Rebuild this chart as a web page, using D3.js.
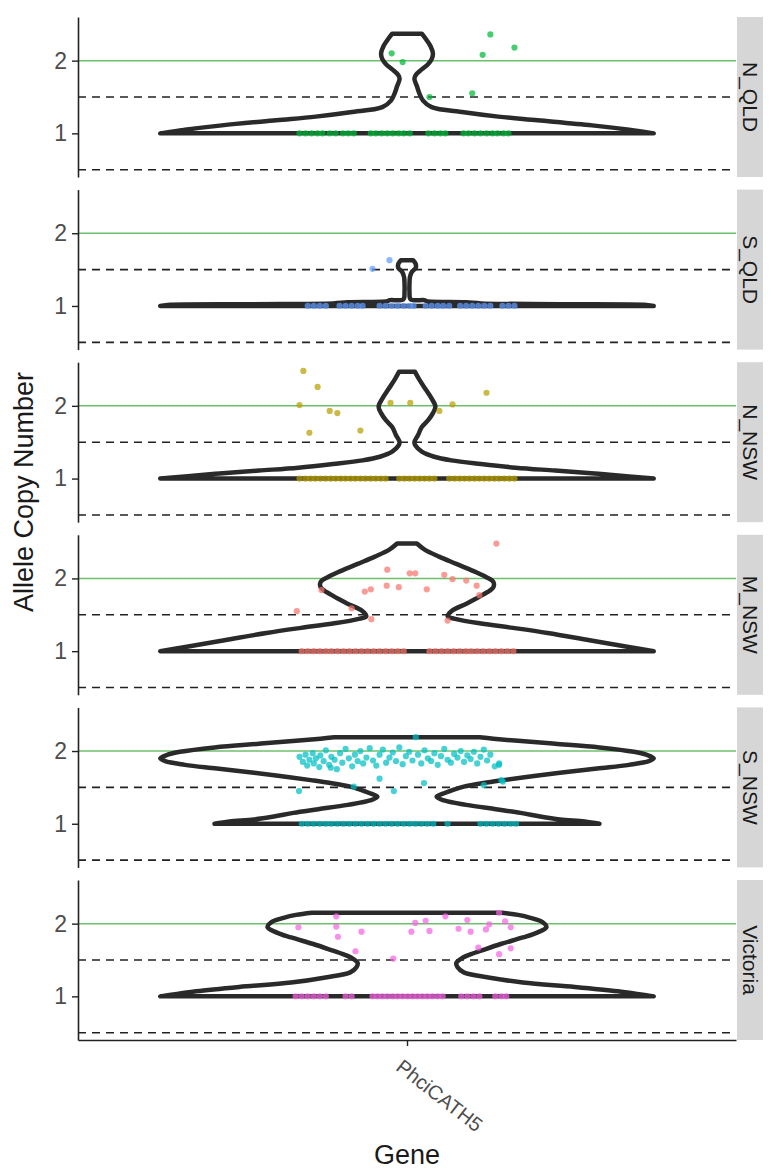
<!DOCTYPE html>
<html>
<head>
<meta charset="utf-8">
<script src="https://cdn.jsdelivr.net/npm/d3@7"></script>
<style>
  body { margin: 0; background: #fff; }
  svg { display: block; }
  text { font-family: "Liberation Sans", Arial, sans-serif; }
</style>
</head>
<body>
<svg id="chart" width="771" height="1171"></svg>
<script>
// ---- data ----
const gene = "PhciCATH5";
const regions = ["N_QLD", "S_QLD", "N_NSW", "M_NSW", "S_NSW", "Victoria"];
const regionColors = ["#00BA38", "#619CFF", "#B79F00", "#F8766D", "#00BFC4", "#F564E3"];
const yTicks = [1, 2];
const dashedLevels = [0.5, 1.5];
const expectedLevel = 2;

// violin outlines: [allele copy number, relative density]
const densNQLD = [[1.00,1.00],[1.05,0.90],[1.11,0.75],[1.18,0.53],[1.23,0.37],[1.29,0.23],[1.36,0.10],[1.45,0.065],[1.55,0.05],[1.65,0.04],[1.75,0.03],[1.80,0.035],[1.88,0.06],[1.95,0.085],[2.02,0.10],[2.10,0.105],[2.20,0.095],[2.28,0.08],[2.37,0.06]];
const densSQLD = [[1.00,1.00],[1.015,0.97],[1.025,0.62],[1.035,0.30],[1.05,0.24],[1.065,0.08],[1.08,0.07],[1.09,0.015],[1.20,0.01],[1.30,0.01],[1.40,0.012],[1.47,0.02],[1.52,0.035],[1.58,0.035],[1.63,0.025]];
const densNNSW = [[1.00,1.00],[1.03,0.90],[1.07,0.76],[1.11,0.60],[1.15,0.44],[1.20,0.30],[1.25,0.18],[1.30,0.11],[1.37,0.06],[1.45,0.035],[1.50,0.03],[1.60,0.045],[1.71,0.06],[1.80,0.085],[1.90,0.105],[1.99,0.115],[2.10,0.10],[2.22,0.077],[2.36,0.05],[2.47,0.032]];
const densMNSW = [[1.00,1.00],[1.05,0.91],[1.15,0.74],[1.25,0.57],[1.32,0.43],[1.38,0.30],[1.44,0.20],[1.48,0.165],[1.55,0.18],[1.66,0.245],[1.78,0.31],[1.88,0.35],[1.95,0.35],[2.02,0.32],[2.10,0.27],[2.20,0.20],[2.30,0.13],[2.40,0.07],[2.48,0.04]];
const densSNSW = [[1.00,0.78],[1.03,0.72],[1.06,0.62],[1.10,0.54],[1.15,0.46],[1.20,0.36],[1.26,0.24],[1.32,0.15],[1.37,0.12],[1.42,0.15],[1.47,0.19],[1.51,0.23],[1.56,0.31],[1.60,0.39],[1.65,0.50],[1.70,0.62],[1.76,0.77],[1.81,0.90],[1.86,0.98],[1.90,1.00],[1.95,0.97],[1.99,0.92],[2.05,0.78],[2.10,0.60],[2.14,0.45],[2.17,0.35],[2.19,0.295]];
const densVIC  = [[1.00,1.00],[1.03,0.94],[1.07,0.855],[1.13,0.68],[1.19,0.47],[1.26,0.33],[1.33,0.23],[1.40,0.205],[1.46,0.20],[1.52,0.22],[1.58,0.26],[1.64,0.31],[1.72,0.38],[1.81,0.47],[1.88,0.53],[1.95,0.565],[2.02,0.55],[2.08,0.50],[2.12,0.45],[2.15,0.385]];

// individual samples: horizontal jitter (category units) of samples at copy number 1
const onesNQLD = [-0.196,-0.185,-0.174,-0.163,-0.154,-0.141,-0.130,-0.117,-0.107,-0.097,-0.066,-0.057,-0.046,-0.036,-0.026,-0.015,-0.006,0.005,0.039,0.050,0.061,0.070,0.103,0.112,0.123,0.134,0.145,0.156,0.165,0.176,0.185];
const onesSQLD = [-0.181,-0.170,-0.159,-0.148,-0.123,-0.112,-0.101,-0.090,-0.081,-0.050,-0.039,-0.028,-0.017,-0.006,0.005,0.012,0.034,0.045,0.056,0.066,0.077,0.097,0.108,0.119,0.130,0.141,0.152,0.174,0.185,0.196];
const onesNNSW = [-0.196,-0.185,-0.176,-0.167,-0.158,-0.148,-0.139,-0.130,-0.121,-0.112,-0.103,-0.094,-0.085,-0.076,-0.066,-0.057,-0.048,-0.039,-0.014,-0.005,0.005,0.014,0.023,0.032,0.041,0.050,0.077,0.087,0.096,0.105,0.114,0.123,0.132,0.141,0.150,0.159,0.168,0.178,0.187,0.196];
const onesMNSW = [-0.192,-0.181,-0.170,-0.159,-0.148,-0.138,-0.127,-0.116,-0.105,-0.094,-0.083,-0.072,-0.061,-0.050,-0.039,-0.028,-0.017,-0.006,0.041,0.052,0.063,0.074,0.085,0.096,0.107,0.117,0.128,0.139,0.150,0.161,0.172,0.183,0.194];
const onesSNSW = [-0.192,-0.181,-0.170,-0.159,-0.148,-0.138,-0.127,-0.116,-0.105,-0.094,-0.083,-0.072,-0.061,-0.050,-0.039,-0.028,-0.017,-0.006,0.005,0.015,0.026,0.037,0.048,0.074,0.134,0.145,0.156,0.167,0.178,0.189,0.199];
const onesVIC  = [-0.203,-0.192,-0.181,-0.170,-0.159,-0.148,-0.112,-0.101,-0.063,-0.054,-0.045,-0.036,-0.026,-0.017,-0.008,0.001,0.010,0.019,0.028,0.037,0.046,0.056,0.065,0.099,0.110,0.121,0.132,0.161,0.172,0.181];

// remaining samples: [jitter, allele copy number]
const restNQLD = [[-0.028,2.10],[-0.008,1.98],[0.041,1.50],[0.119,1.55],[0.138,2.08],[0.152,2.36],[0.196,2.18]];
const restSQLD = [[-0.063,1.51],[-0.032,1.63]];
const restNNSW = [[-0.189,2.48],[-0.163,2.26],[-0.196,2.01],[-0.141,1.93],[-0.127,1.90],[-0.178,1.63],[-0.085,1.66],[-0.030,2.04],[0.006,2.04],[0.059,1.93],[0.083,2.02],[0.145,2.18]];
const restMNSW = [[0.163,2.48],[-0.036,2.12],[0.005,2.07],[0.015,2.07],[0.068,2.05],[0.083,1.99],[0.108,1.97],[0.127,1.90],[-0.037,1.90],[-0.015,1.88],[0.036,1.85],[-0.077,1.82],[-0.066,1.85],[-0.156,1.84],[0.132,1.77],[-0.201,1.55],[-0.101,1.59],[-0.065,1.44],[0.074,1.42]];
const restSNSW = [[-0.196,1.92],[-0.190,1.85],[-0.185,1.95],[-0.182,1.80],[-0.178,1.88],[-0.172,1.97],[-0.170,1.83],[-0.166,1.90],[-0.160,1.78],[-0.158,1.94],[-0.152,1.86],[-0.148,2.01],[-0.142,1.81],[-0.138,1.92],[-0.132,1.88],[-0.128,1.75],[-0.122,1.97],[-0.118,1.84],[-0.112,2.03],[-0.106,1.90],[-0.100,1.79],[-0.095,1.95],[-0.090,1.86],[-0.085,2.00],[-0.080,1.83],[-0.074,1.91],[-0.068,2.04],[-0.062,1.87],[-0.056,1.80],[-0.050,1.95],[-0.044,2.02],[-0.038,1.84],[-0.032,1.91],[-0.026,1.98],[-0.020,1.86],[-0.014,2.05],[-0.008,1.82],[-0.002,1.93],[0.004,1.99],[0.010,1.87],[0.016,2.19],[0.020,1.95],[0.026,1.83],[0.032,2.01],[0.038,1.90],[0.044,1.86],[0.050,1.97],[0.056,1.81],[0.062,1.93],[0.068,2.03],[0.074,1.88],[0.080,1.84],[0.086,1.96],[0.092,1.91],[0.098,2.00],[0.104,1.85],[0.110,1.94],[0.116,1.89],[0.122,1.99],[0.128,1.83],[0.134,1.92],[0.140,2.02],[0.146,1.87],[0.152,1.95],[0.160,1.79],[0.168,1.83],[0.172,1.60],[0.175,1.58],[0.140,1.53],[-0.197,1.45],[-0.050,1.62],[0.031,1.56],[-0.024,1.45],[-0.097,1.51],[-0.139,1.77],[0.168,1.81]];
const restVIC  = [[-0.129,2.10],[-0.129,1.96],[-0.126,1.82],[-0.198,1.95],[-0.083,1.89],[-0.094,1.62],[-0.025,1.52],[0.008,1.89],[0.015,2.01],[0.034,2.04],[0.041,1.90],[0.070,2.10],[0.094,1.93],[0.110,2.05],[0.116,1.89],[0.144,1.92],[0.150,1.99],[0.168,2.15],[0.179,2.03],[0.189,1.95],[0.189,1.66],[0.168,1.58],[0.130,1.67]];

const densities = [densNQLD, densSQLD, densNNSW, densMNSW, densSNSW, densVIC];
const ones = [onesNQLD, onesSQLD, onesNNSW, onesMNSW, onesSNSW, onesVIC];
const rests = [restNQLD, restSQLD, restNNSW, restMNSW, restSNSW, restVIC];

// ---- layout ----
const panelLeft = 78, panelRight = 736;
const panelTop = 17, panelH = 160, panelGap = 12.6;
const stripW = 26;
const yDomain = [0.4, 2.6];
const violinWidth = 0.9;
const ink = "#222";

const svg = d3.select("#chart");

const x = d3.scalePoint().domain([gene]).range([panelLeft, panelRight]).padding(0.6);
const step = x.step();
const cx = x(gene);

regions.forEach((region, i) => {
  const top = panelTop + i * (panelH + panelGap);
  const y = d3.scaleLinear().domain(yDomain).range([top + panelH, top]);
  const g = svg.append("g").attr("class", "panel");

  // strip
  g.append("rect")
    .attr("x", panelRight + 1).attr("y", top)
    .attr("width", stripW).attr("height", panelH)
    .attr("fill", "#d6d6d6");
  g.append("text")
    .attr("transform", `translate(${panelRight + 1 + stripW / 2},${top + panelH / 2}) rotate(90)`)
    .attr("text-anchor", "middle")
    .attr("dominant-baseline", "central")
    .attr("font-size", 21)
    .attr("fill", "#1a1a1a")
    .text(region);

  // reference lines
  g.selectAll("line.dash").data(dashedLevels).join("line")
    .attr("class", "dash")
    .attr("x1", panelLeft).attr("x2", panelRight)
    .attr("y1", d => y(d)).attr("y2", d => y(d))
    .attr("stroke", ink).attr("stroke-width", 1.6)
    .attr("stroke-dasharray", "8,6");
  g.append("line")
    .attr("x1", panelLeft).attr("x2", panelRight)
    .attr("y1", y(expectedLevel)).attr("y2", y(expectedLevel))
    .attr("stroke", "#6cc06c").attr("stroke-width", 1.5);

  // violin
  const half = d => (violinWidth / 2) * step * d[1];
  const area = d3.area()
    .y(d => y(d[0]))
    .x0(d => cx - half(d))
    .x1(d => cx + half(d))
    .curve(d3.curveCatmullRom.alpha(0.5));
  g.append("path")
    .datum(densities[i])
    .attr("d", area)
    .attr("fill", "none")
    .attr("stroke", "#2a2a2a")
    .attr("stroke-width", 4.5)
    .attr("stroke-linejoin", "round")
    .attr("stroke-linecap", "round");

  // samples
  const samples = ones[i].map(j => [j, 1]).concat(rests[i]);
  g.selectAll("circle").data(samples).join("circle")
    .attr("cx", d => cx + d[0] * step)
    .attr("cy", d => y(d[1]))
    .attr("r", 3.1)
    .attr("fill", regionColors[i])
    .attr("fill-opacity", 0.72);

  // y axis
  const yAxis = d3.axisLeft(y).tickValues(yTicks).tickFormat(d3.format("d"))
    .tickSize(6).tickSizeOuter(0).tickPadding(5);
  const ag = g.append("g").attr("transform", `translate(${panelLeft},0)`).call(yAxis);
  ag.select(".domain").attr("stroke", ink).attr("stroke-width", 1.6);
  ag.selectAll(".tick line").attr("stroke", ink).attr("stroke-width", 1.4);
  ag.selectAll(".tick text").attr("font-size", 23).attr("fill", "#4d4d4d")
    .attr("font-family", "Liberation Sans, Arial, sans-serif");
});

// x axis under the last panel
const bottom = panelTop + regions.length * panelH + (regions.length - 1) * panelGap;
const xAxis = d3.axisBottom(x).tickSize(6).tickSizeOuter(0).tickPadding(4);
const xg = svg.append("g").attr("transform", `translate(0,${bottom})`).call(xAxis);
xg.select(".domain").attr("stroke", ink).attr("stroke-width", 1.6);
xg.selectAll(".tick line").attr("stroke", ink).attr("stroke-width", 1.4);
xg.selectAll(".tick text")
  .attr("font-size", 20)
  .attr("fill", "#4d4d4d")
  .attr("font-family", "Liberation Sans, Arial, sans-serif")
  .attr("text-anchor", "start")
  .attr("dominant-baseline", "hanging")
  .attr("y", 0).attr("dy", 0)
  .attr("transform", "translate(-4,18) rotate(38)");

// axis titles
svg.append("text")
  .attr("x", cx).attr("y", 1164)
  .attr("text-anchor", "middle")
  .attr("font-size", 27)
  .attr("fill", "#1a1a1a")
  .text("Gene");
svg.append("text")
  .attr("transform", "translate(33,492) rotate(-90)")
  .attr("text-anchor", "middle")
  .attr("font-size", 27)
  .attr("fill", "#1a1a1a")
  .text("Allele Copy Number");
</script>
</body>
</html>
